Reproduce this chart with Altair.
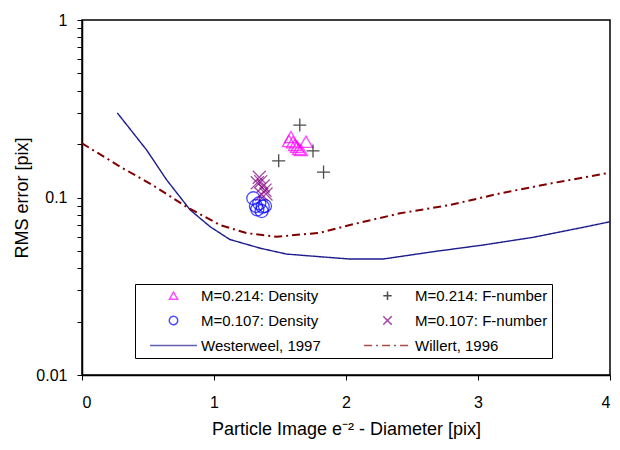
import altair as alt
import pandas as pd

# ---- data ----
# legend fills column by column, so this order gives the reference's row layout
series_names = ["M=0.214: Density", "M=0.107: Density", "Westerweel, 1997",
                "M=0.214: F-number", "M=0.107: F-number", "Willert, 1996"]
series_colors = ["#ff00ff", "#0000ff", "#1c1c8c", "#000000", "#800080", "#800000"]

dens214_x = [1.583, 1.568, 1.598, 1.614, 1.629, 1.644, 1.659, 1.697]
dens214_y = [0.219, 0.208, 0.205, 0.198, 0.193, 0.188, 0.185, 0.206]
fnum214_x = [1.49, 1.65, 1.75, 1.83]
fnum214_y = [0.161, 0.256, 0.183, 0.139]
dens107_x = [1.298, 1.343, 1.328, 1.369, 1.361, 1.386, 1.318]
dens107_y = [0.0990, 0.0928, 0.0858, 0.0888, 0.0839, 0.0896, 0.0896]
fnum107_x = [1.343, 1.354, 1.373, 1.386, 1.361, 1.394, 1.328]
fnum107_y = [0.130, 0.1228, 0.116, 0.110, 0.104, 0.1046, 0.121]

westerweel_x = [0.267, 0.49, 0.64, 0.82, 0.97, 1.12, 1.35, 1.55, 1.80,
                2.03, 2.28, 2.66, 3.04, 3.42, 3.80, 4.0]
westerweel_y = [0.300, 0.185, 0.126, 0.085, 0.0685, 0.058, 0.0518, 0.048, 0.0464,
                0.0450, 0.0450, 0.0495, 0.054, 0.0597, 0.068, 0.073]
willert_x = [0.0, 0.29, 0.53, 0.79, 1.045, 1.25, 1.475, 1.63, 1.80,
             2.03, 2.41, 2.79, 3.17, 3.55, 4.0]
willert_y = [0.202, 0.149, 0.118, 0.0888, 0.070, 0.0629, 0.0601, 0.0616, 0.0633,
             0.070, 0.0815, 0.0908, 0.1056, 0.120, 0.138]

y_tick_values = [0.01, 0.02, 0.03, 0.04, 0.05, 0.06, 0.07, 0.08, 0.09,
                 0.1, 0.2, 0.3, 0.4, 0.5, 0.6, 0.7, 0.8, 0.9, 1]
x_tick_values = [0, 1, 2, 3, 4]

# ---- tables ----
pt_rows = []
for name, xs, ys in [("M=0.214: Density", dens214_x, dens214_y),
                     ("M=0.214: F-number", fnum214_x, fnum214_y),
                     ("M=0.107: Density", dens107_x, dens107_y),
                     ("M=0.107: F-number", fnum107_x, fnum107_y)]:
    for a, b in zip(xs, ys):
        pt_rows.append({"x": a, "y": b, "series": name})
points = pd.DataFrame(pt_rows)

west = pd.DataFrame({"x": westerweel_x, "y": westerweel_y, "series": "Westerweel, 1997"})
will = pd.DataFrame({"x": willert_x, "y": willert_y, "series": "Willert, 1996"})

PLUS = "M-1,0L1,0M0,-1L0,1"
XSH = "M-1,-1L1,1M-1,1L1,-1"
LINE = "M-5.6,0L5.6,0"

color_scale = alt.Scale(domain=series_names, range=series_colors)
shape_scale = alt.Scale(domain=series_names,
                        range=["triangle-up", "circle", LINE, PLUS, XSH, LINE])
dash_scale = alt.Scale(domain=series_names,
                       range=[[1, 0], [1, 0], [1, 0], [1, 0], [1, 0], [8, 4, 2, 4]])

x_enc = alt.X("x:Q", scale=alt.Scale(domain=[0, 4], nice=False),
              axis=alt.Axis(values=x_tick_values, title="Particle Image e⁻² - Diameter [pix]",
                            labelPadding=14, titlePadding=10, format="d"))
y_enc = alt.Y("y:Q", scale=alt.Scale(type="log", domain=[0.01, 1], nice=False),
              axis=alt.Axis(values=y_tick_values, title="RMS error [pix]",
                            labelExpr="datum.value == 1 ? '1' : datum.value == 0.1 ? '0.1' : datum.value == 0.01 ? '0.01' : ''",
                            labelOverlap=False, labelPadding=10, titlePadding=4))

leg = alt.Legend(title=None, orient="none", legendX=53, legendY=264, columns=2)

color_enc = alt.Color("series:N", scale=color_scale, legend=leg)
dash_enc = alt.StrokeDash("series:N", scale=dash_scale, legend=leg)

pts_layer = alt.Chart(points).mark_point(filled=False, size=170, strokeWidth=1.3).encode(
    x=x_enc, y=y_enc, color=color_enc,
    shape=alt.Shape("series:N", scale=shape_scale, legend=leg))

west_layer = alt.Chart(west).mark_line(strokeWidth=1.4).encode(
    x=x_enc, y=y_enc, color=color_enc, strokeDash=dash_enc)
will_layer = alt.Chart(will).mark_line(strokeWidth=2).encode(
    x=x_enc, y=y_enc, color=color_enc, strokeDash=dash_enc)

chart = alt.layer(west_layer, will_layer, pts_layer).properties(
    width=528, height=355,
    padding={"left": 74, "top": 12, "right": 2, "bottom": 66},
    autosize=alt.AutoSizeParams(type="none"),
).configure_view(
    stroke="black", strokeWidth=1.5
).configure_axis(
    grid=False, domainColor="black", domainWidth=1.5, tickColor="black", tickWidth=1,
    tickSize=5, labelFont="Liberation Sans", titleFont="Liberation Sans",
    labelFontSize=16, titleFontSize=18, titleFontWeight="normal",
    labelColor="black", titleColor="black"
).configure_legend(
    strokeColor="black", fillColor="white", padding=4, labelFont="Liberation Sans",
    labelFontSize=15, labelColor="black", symbolSize=70, symbolStrokeWidth=1.5,
    rowPadding=9, columnPadding=32, symbolOffset=27, labelOffset=20
)

chart.save("out.html", embed_options={"renderer": "svg", "actions": False})
